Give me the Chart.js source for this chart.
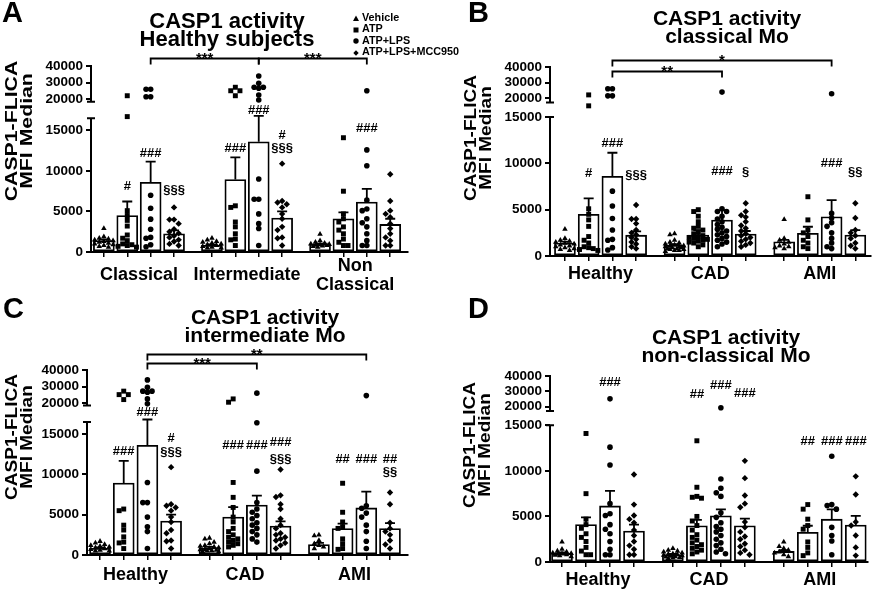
<!DOCTYPE html>
<html>
<head>
<meta charset="utf-8">
<script src="https://cdn.jsdelivr.net/npm/chart.js@4.4.1/dist/chart.umd.min.js"></script>
<style>
  body { margin: 0; background: #fff; }
  #fig { position: relative; width: 875px; height: 590px; overflow: hidden;
         font-family: 'Liberation Sans', Arial, sans-serif; font-weight: bold; color: #000; }
  canvas { position: absolute; }
  .letter { position: absolute; font-size: 29px; line-height: 29px; }
  .title { position: absolute; font-size: 21px; line-height: 18px; text-align: center;
           white-space: nowrap; transform: translateX(-50%); }
  .ytitle { position: absolute; font-size: 17px; line-height: 15px; text-align: center; white-space: nowrap; }
  .legend { position: absolute; left: 353px; top: 11.5px; font-size: 10.8px; line-height: 11.5px; white-space: nowrap; }
  .legend svg { vertical-align: -0.5px; margin-right: 3px; }
</style>
</head>
<body>
<div id="fig">
  <canvas id="cA" width="437" height="295" style="left:0;top:0"></canvas>
  <canvas id="cB" width="438" height="295" style="left:437px;top:0"></canvas>
  <canvas id="cC" width="437" height="295" style="left:0;top:295px"></canvas>
  <canvas id="cD" width="438" height="295" style="left:437px;top:295px"></canvas>

  <div class="letter" style="left:2px;top:-2px">A</div>
  <div class="letter" style="left:468px;top:-2px">B</div>
  <div class="letter" style="left:3px;top:294px">C</div>
  <div class="letter" style="left:468px;top:294px">D</div>

  <div class="title" style="left:227px;top:12px;font-size:22px">CASP1 activity<br>Healthy subjects</div>
  <div class="title" style="left:727px;top:9px">CASP1 activity<br>classical Mo</div>
  <div class="title" style="left:265px;top:308px">CASP1 activity<br>intermediate Mo</div>
  <div class="title" style="left:726px;top:328px">CASP1 activity<br>non-classical Mo</div>

  <div class="ytitle" style="left:18.5px;top:131px;transform:translate(-50%,-50%) rotate(-90deg) scaleX(1.25)">CASP1-FLICA<br>MFI Median</div>
  <div class="ytitle" style="left:477.5px;top:138px;transform:translate(-50%,-50%) rotate(-90deg) scaleX(1.12)">CASP1-FLICA<br>MFI Median</div>
  <div class="ytitle" style="left:18.5px;top:437px;transform:translate(-50%,-50%) rotate(-90deg) scaleX(1.12)">CASP1-FLICA<br>MFI Median</div>
  <div class="ytitle" style="left:476.5px;top:445px;transform:translate(-50%,-50%) rotate(-90deg) scaleX(1.12)">CASP1-FLICA<br>MFI Median</div>

  <div class="legend">
    <div><svg width="6" height="6"><polygon points="0,6 3,0.5 6,6" fill="#000"/></svg>Vehicle</div>
    <div><svg width="6" height="6"><rect x="0.5" y="0.5" width="5" height="5" fill="#000"/></svg>ATP</div>
    <div><svg width="6" height="6"><circle cx="3" cy="3" r="2.7" fill="#000"/></svg>ATP+LPS</div>
    <div><svg width="6" height="6"><polygon points="3,0.3 5.7,3 3,5.7 0.3,3" fill="#000"/></svg>ATP+LPS+MCC950</div>
  </div>
</div>

<script>
// ---------------- data ----------------
const treatments = ['Vehicle', 'ATP', 'ATP+LPS', 'ATP+LPS+MCC950'];
const subsetGroups = ['Classical', 'Intermediate', ['Non', 'Classical']];
const cohortGroups = ['Healthy', 'CAD', 'AMI'];
const yTicks = [0, 5000, 10000, 15000, 20000, 30000, 40000];

// healthy subjects
const healthyClassicalMean = [1400, 4500, 8600, 2250];
const healthyClassicalSem = [150, 1730, 2550, 410];
const healthyClassicalPoints = [
  [2900, 1900, 1700, 1600, 1500, 1400, 1300, 1200, 1100, 1000, 900, 800, 700, 600],
  [22100, 16700, 5100, 4500, 3900, 3200, 2100, 1700, 1400, 1000, 900, 800, 700, 600],
  [26000, 26000, 21500, 21500, 7000, 5400, 4050, 2800, 1800, 1700, 900, 650],
  [5500, 4000, 4000, 3500, 2800, 2500, 2300, 2000, 1800, 1500, 1300, 1000, 800]
];
const healthyIntermediateMean = [820, 8930, 13600, 4200];
const healthyIntermediateSem = [120, 2750, 3200, 800];
const healthyIntermediatePoints = [
  [1700, 1500, 1300, 1200, 1100, 1000, 900, 800, 700, 600, 500, 500],
  [27200, 25100, 25100, 22100, 5700, 5500, 3700, 3100, 2250, 1600, 1500, 800],
  [34000, 29600, 27200, 27200, 26600, 22500, 19500, 9000, 6500, 6500, 4700, 3500, 2900, 800],
  [10900, 6300, 6100, 5900, 5500, 4700, 4100, 3100, 2700, 1800, 1700, 800]
];
const healthyNonClassicalMean = [940, 4100, 6150, 3400];
const healthyNonClassicalSem = [100, 800, 1650, 700];
const healthyNonClassicalPoints = [
  [2200, 1400, 1200, 1100, 1000, 950, 900, 850, 800, 750, 700, 600],
  [14100, 7500, 4700, 4100, 3700, 3100, 2700, 2250, 1600, 1200, 800, 800],
  [25100, 12600, 10650, 6400, 5300, 5100, 4100, 3600, 3100, 2250, 1400, 800, 800],
  [9600, 6300, 5100, 4700, 4300, 3500, 2900, 2250, 1800, 1400, 800, 800]
];

// CAD patients
const cadClassicalMean = [1190, 2260, 3880, 2370];
const cadClassicalSem = [100, 540, 1070, 330];
const cadClassicalPoints = [
  [2400, 2300, 1700, 1500, 1400, 1300, 1200, 1100, 1100, 1000, 1000, 900, 900, 800, 800, 700, 700, 600, 600, 500],
  [5000, 4800, 4300, 3700, 3200, 3000, 2800, 2600, 2400, 2200, 2100, 2000, 1900, 1800, 1700, 1600, 1500, 1400, 1200, 1000],
  [23900, 5100, 4800, 4800, 4300, 4000, 3700, 3400, 3100, 2900, 2700, 2500, 2300, 2100, 1900, 1700, 1500, 1300, 1000],
  [5700, 4800, 4400, 4200, 3700, 3300, 3000, 2700, 2400, 2200, 2000, 1800, 1600, 1400, 1200, 1000]
];
const cadIntermediateMean = [900, 4700, 6200, 3600];
const cadIntermediateSem = [100, 1230, 1160, 570];
const cadIntermediatePoints = [
  [2100, 2000, 1600, 1400, 1200, 1100, 1000, 900, 800, 700, 650, 600, 550, 500, 450, 400],
  [22500, 20500, 9000, 7150, 5900, 4700, 4100, 3300, 2900, 2500, 2200, 2000, 1800, 1600, 1400, 1200, 1000],
  [26000, 16400, 10400, 6500, 5700, 5300, 4900, 4500, 4000, 3700, 3300, 2900, 2500, 2000, 1600],
  [10600, 7400, 7200, 6300, 5700, 4500, 3700, 3300, 2700, 2500, 2200, 2000, 1800, 1500, 1200, 800]
];
const cadNonClassicalMean = [800, 3980, 5060, 3980];
const cadNonClassicalSem = [80, 650, 720, 790];
const cadNonClassicalPoints = [
  [1500, 1300, 1200, 1100, 1000, 900, 850, 800, 750, 700, 650, 600, 550, 500, 450, 400],
  [13300, 8200, 7200, 7100, 7000, 5000, 4500, 4000, 3500, 3000, 2700, 2400, 2100, 1900, 1700, 1500, 1300, 1100, 900],
  [19300, 9100, 8100, 7600, 7200, 5400, 4900, 4300, 3900, 3600, 3300, 2900, 2500, 2100, 1800, 1400, 1100, 900],
  [11100, 9200, 7300, 6400, 6000, 4400, 3800, 3300, 2800, 2500, 2000, 1700, 1300, 1000, 800]
];

// AMI patients
const amiClassicalMean = [1540, 2440, 4240, 2260];
const amiClassicalSem = [200, 720, 1790, 540];
const amiClassicalPoints = [
  [3950, 1900, 1700, 1500, 1300, 1100, 1000, 900, 800],
  [6400, 3900, 2800, 2500, 2100, 1700, 1400, 1000, 800],
  [22800, 4600, 4100, 3600, 3200, 2500, 1900, 1400, 1000, 800],
  [5700, 4100, 2800, 2500, 2200, 1900, 1400, 1100, 800]
];
const amiIntermediateMean = [1300, 3270, 5840, 3270];
const amiIntermediateSem = [200, 610, 2010, 690];
const amiIntermediatePoints = [
  [2500, 2400, 1800, 1400, 1200, 1000, 800],
  [8900, 5300, 4100, 3500, 3300, 2000, 1400, 800, 700],
  [24500, 6100, 5800, 5200, 4700, 3700, 2900, 1700, 800],
  [7760, 6300, 4000, 3300, 2900, 2500, 1800, 1300, 800]
];
const amiNonClassicalMean = [1160, 3250, 4700, 4050];
const amiNonClassicalSem = [150, 730, 1080, 1010];
const amiNonClassicalPoints = [
  [2200, 1700, 1500, 1300, 1100, 1000, 800, 600],
  [6300, 5800, 4700, 4000, 3600, 2200, 1600, 1000, 700],
  [11600, 6300, 6200, 5800, 3800, 2900, 2300, 800],
  [9400, 7400, 4400, 4000, 2900, 1600, 700]
];

// significance marks: [group, bar, height, text] and brackets [[g,b],[g,b], height, text]
const marksA = [[0, 1, 8050, '#'], [0, 2, 12190, '###'], [0, 3, 7650, '§§§'], [1, 1, 12810, '###'],
  [1, 2, 17500, '###'], [1, 3, 14340, '#'], [1, 3, 12810, '§§§'], [2, 2, 15290, '###']];
const bracketsA = [[[0, 2], [1, 2], 44800, '***'], [[1, 2], [2, 2], 44800, '***']];
const marksB = [[0, 1, 8940, '#'], [0, 2, 12110, '###'], [0, 3, 8650, '§§§'], [1, 2, 9110, '###'],
  [1, 3, 9010, '§'], [2, 2, 10020, '###'], [2, 3, 9010, '§§']];
const bracketsB = [[[0, 2], [1, 2], 37400, '**'], [[0, 2], [2, 2], 44500, '*']];
const marksC = [[0, 1, 12900, '###'], [0, 2, 17680, '###'], [0, 3, 14420, '#'], [0, 3, 12700, '§§§'],
  [1, 1, 13650, '###'], [1, 2, 13650, '###'], [1, 3, 13930, '###'], [1, 3, 11890, '§§§'],
  [2, 1, 11890, '##'], [2, 2, 11890, '###'], [2, 3, 11890, '##'], [2, 3, 10250, '§§']];
const bracketsC = [[[0, 2], [1, 2], 44000, '***'], [[0, 2], [2, 2], 49500, '**']];
const marksD = [[0, 2, 35900, '###'], [1, 1, 28000, '##'], [1, 2, 33700, '###'], [1, 3, 28700, '###'],
  [2, 1, 13280, '##'], [2, 2, 13280, '###'], [2, 3, 13280, '###']];

// ---------------- drawing ----------------
const FONT = "'Liberation Sans', Arial, sans-serif";
Chart.defaults.font.family = FONT;
Chart.defaults.font.weight = 'bold';
Chart.defaults.color = '#000';

const GROUP_STEP = 4.62;
const barPos = (g, b) => g * GROUP_STEP + b;
const pointStyles = ['triangle', 'rect', 'circle', 'rectRot'];
const pointRadii = [3.2, 3.5, 2.8, 3.2];

// broken y axis: lower linear part, a gap, compressed upper part
const brkAC = { lowMax: 16500, highMin: 18500, max: 40000, lowFrac: 0.719, gapFrac: 0.089 };
const brkBD = { lowMax: 15000, highMin: 17200, max: 40000, lowFrac: 0.735, gapFrac: 0.077 };

function brokenFrac(v, b) {
  const hi = 1 - b.lowFrac - b.gapFrac;
  if (v <= b.lowMax) return v / b.lowMax * b.lowFrac;
  if (v <= b.highMin) return b.lowFrac + (v - b.lowMax) / (b.highMin - b.lowMax) * b.gapFrac;
  return b.lowFrac + b.gapFrac + (v - b.highMin) / (b.max - b.highMin) * hi;
}
function brokenValue(f, b) {
  const hi = 1 - b.lowFrac - b.gapFrac;
  if (f <= b.lowFrac) return f / b.lowFrac * b.lowMax;
  if (f <= b.lowFrac + b.gapFrac) return b.lowMax + (f - b.lowFrac) / b.gapFrac * (b.highMin - b.lowMax);
  return b.highMin + (f - b.lowFrac - b.gapFrac) / hi * (b.max - b.highMin);
}

class BrokenScale extends Chart.LinearScale {
  static id = 'broken';
  getPixelForValue(v) { return this.bottom - brokenFrac(v, this.brk) * (this.bottom - this.top); }
  getValueForPixel(px) { return brokenValue((this.bottom - px) / (this.bottom - this.top), this.brk); }
}
Chart.register(BrokenScale);

// spread the dots of one bar sideways (pixels) so they do not sit on each other
const SPREAD = [0, -4.6, 4.6, -9.2, 9.2, -2.3, 2.3, -6.9, 6.9];
function swarm(vals, brk, axisPx) {
  const placed = [];
  return vals.map(v => {
    const py = brokenFrac(v, brk) * axisPx;
    let best = 0, bestD = -1;
    for (const c of SPREAD) {
      const d = placed.reduce((m, p) => Math.min(m, Math.hypot(p.x - c, p.y - py)), 99);
      if (d >= 4.6) { best = c; bestD = d; break; }
      if (d > bestD) { best = c; bestD = d; }
    }
    placed.push({ x: best, y: py });
    return best;
  });
}

const brokenAxis = {
  id: 'brokenAxis',
  afterDraw(chart) {
    const y = chart.scales.y, b = y.brk, ctx = chart.ctx, x = y.right;
    const pLow = y.getPixelForValue(b.lowMax), pHigh = y.getPixelForValue(b.highMin);
    ctx.save();
    ctx.strokeStyle = '#000';
    ctx.lineWidth = 2;
    ctx.beginPath();
    ctx.moveTo(x, y.bottom + 1); ctx.lineTo(x, pLow);
    ctx.moveTo(x - 4, pLow); ctx.lineTo(x + 4, pLow);
    ctx.moveTo(x, y.top - 1); ctx.lineTo(x, pHigh);
    ctx.moveTo(x - 4, pHigh); ctx.lineTo(x + 4, pHigh);
    ctx.stroke();
    ctx.restore();
  }
};

const errorBars = {
  id: 'errorBars',
  afterDatasetDraw(chart, args) {
    if (args.meta.type !== 'bar') return;
    const { ctx, scales: { x, y } } = chart;
    ctx.save();
    ctx.strokeStyle = '#000';
    ctx.lineWidth = 1.8;
    chart.data.datasets[args.index].data.forEach(d => {
      const px = x.getPixelForValue(d.x), p0 = y.getPixelForValue(d.y), p1 = y.getPixelForValue(d.y + d.sem);
      ctx.beginPath();
      ctx.moveTo(px, p0); ctx.lineTo(px, p1);
      ctx.moveTo(px - 5, p1); ctx.lineTo(px + 5, p1);
      ctx.stroke();
    });
    ctx.restore();
  }
};

function marksPlugin(labels, brackets) {
  return {
    id: 'marks',
    afterDatasetsDraw(chart) {
      const { ctx, scales: { x, y } } = chart;
      ctx.save();
      ctx.fillStyle = '#000';
      ctx.strokeStyle = '#000';
      ctx.textAlign = 'center';
      ctx.textBaseline = 'middle';
      ctx.font = 'bold 13px ' + FONT;
      labels.forEach(([g, b, v, t]) => ctx.fillText(t, x.getPixelForValue(barPos(g, b)), y.getPixelForValue(v)));
      ctx.font = 'bold 15px ' + FONT;
      ctx.textBaseline = 'alphabetic';
      ctx.lineWidth = 1.8;
      brackets.forEach(([[g1, b1], [g2, b2], v, t]) => {
        const x1 = x.getPixelForValue(barPos(g1, b1)), x2 = x.getPixelForValue(barPos(g2, b2));
        const py = Math.round(y.getPixelForValue(v)) + 0.5;
        ctx.beginPath();
        ctx.moveTo(x1, py + 6); ctx.lineTo(x1, py); ctx.lineTo(x2, py); ctx.lineTo(x2, py + 6);
        ctx.stroke();
        ctx.fillText(t, (x1 + x2) / 2, py + 4);
      });
      ctx.restore();
    }
  };
}

function makePanel(p) {
  const W = p.W, H = 295, box = p.box;
  const ppu = (box.right - box.left) / (p.xRange[1] - p.xRange[0]);
  const axisPx = box.bottom - box.top;
  const barData = [];
  const pointSets = treatments.map(() => []);
  p.sets.forEach((set, g) => {
    set.mean.forEach((m, b) => {
      const x = barPos(g, b);
      barData.push({ x, y: m, sem: set.sem[b] });
      const offs = swarm(set.points[b], p.brk, axisPx);
      set.points[b].forEach((v, k) => pointSets[b].push({ x: x + offs[k] / ppu, y: v }));
    });
  });
  const barTicks = barData.map(d => ({ value: d.x }));
  const groupTicks = p.groups.map((_, g) => ({ value: barPos(g, 1.5) }));

  new Chart(document.getElementById(p.canvas), {
    type: 'bar',
    data: {
      datasets: [
        ...pointSets.map((d, i) => ({
          type: 'scatter', label: treatments[i], data: d, order: 1,
          pointStyle: pointStyles[i], pointRadius: pointRadii[i],
          backgroundColor: '#000', borderColor: '#000', borderWidth: 0
        })),
        {
          type: 'bar', label: 'mean', data: barData, order: 2,
          backgroundColor: '#fff', borderColor: '#000', borderWidth: 1.8,
          borderSkipped: false, barThickness: 21
        }
      ]
    },
    options: {
      responsive: false,
      animation: false,
      events: [],
      layout: { padding: { left: 0, top: box.top, right: W - box.right, bottom: 0 } },
      plugins: { legend: { display: false }, tooltip: { enabled: false } },
      scales: {
        x: {
          type: 'linear', position: 'bottom', weight: 1, offset: false,
          min: p.xRange[0], max: p.xRange[1],
          afterBuildTicks: s => { s.ticks = barTicks.slice(); },
          afterFit: s => { s.height = 5; },
          ticks: { callback: () => '', autoSkip: false, maxRotation: 0 },
          grid: { offset: false, drawOnChartArea: false, drawTicks: true, tickLength: 5, color: '#000', lineWidth: 1.5 },
          border: { display: true, color: '#000', width: 2 }
        },
        x2: {
          type: 'linear', position: 'bottom', weight: 2, offset: false,
          min: p.xRange[0], max: p.xRange[1],
          afterBuildTicks: s => { s.ticks = groupTicks.slice(); },
          afterFit: s => { s.height = H - box.bottom - 5; },
          ticks: {
            callback: (v, i) => p.groups[i], autoSkip: false, maxRotation: 0,
            padding: p.labelPad, crossAlign: 'center',
            font: { size: 18, weight: 'bold', lineHeight: 1.05 }, color: '#000'
          },
          grid: { display: false, drawTicks: false, tickLength: 0, offset: false },
          border: { display: false }
        },
        y: {
          type: 'broken', position: 'left', min: 0, max: 40000,
          beforeUpdate: s => { s.brk = p.brk; },
          afterBuildTicks: s => { s.ticks = yTicks.map(v => ({ value: v })); },
          afterFit: s => { s.width = box.left; },
          ticks: { callback: v => String(v), autoSkip: false, padding: 3, font: { size: 13.5, weight: 'bold' }, color: '#000' },
          grid: { drawOnChartArea: false, drawTicks: true, tickLength: 5, color: '#000', lineWidth: 2 },
          border: { display: false }
        }
      }
    },
    plugins: [errorBars, brokenAxis, marksPlugin(p.marks, p.brackets)]
  });
}

const healthyClassical = { mean: healthyClassicalMean, sem: healthyClassicalSem, points: healthyClassicalPoints };
const healthyIntermediate = { mean: healthyIntermediateMean, sem: healthyIntermediateSem, points: healthyIntermediatePoints };
const healthyNonClassical = { mean: healthyNonClassicalMean, sem: healthyNonClassicalSem, points: healthyNonClassicalPoints };
const cadClassical = { mean: cadClassicalMean, sem: cadClassicalSem, points: cadClassicalPoints };
const cadIntermediate = { mean: cadIntermediateMean, sem: cadIntermediateSem, points: cadIntermediatePoints };
const cadNonClassical = { mean: cadNonClassicalMean, sem: cadNonClassicalSem, points: cadNonClassicalPoints };
const amiClassical = { mean: amiClassicalMean, sem: amiClassicalSem, points: amiClassicalPoints };
const amiIntermediate = { mean: amiIntermediateMean, sem: amiIntermediateSem, points: amiIntermediatePoints };
const amiNonClassical = { mean: amiNonClassicalMean, sem: amiNonClassicalSem, points: amiNonClassicalPoints };

makePanel({ canvas: 'cA', W: 437, box: { left: 91, right: 408, top: 66, bottom: 252 }, xRange: [-0.55, 13.0],
  brk: brkAC, labelPad: 9, groups: subsetGroups,
  sets: [healthyClassical, healthyIntermediate, healthyNonClassical], marks: marksA, brackets: bracketsA });
makePanel({ canvas: 'cB', W: 438, box: { left: 113, right: 435, top: 67, bottom: 256 }, xRange: [-0.63, 12.9],
  brk: brkBD, labelPad: 13, groups: cohortGroups,
  sets: [healthyClassical, cadClassical, amiClassical], marks: marksB, brackets: bracketsB });
makePanel({ canvas: 'cC', W: 437, box: { left: 87, right: 408, top: 75, bottom: 260 }, xRange: [-0.55, 13.0],
  brk: brkAC, labelPad: 15, groups: cohortGroups,
  sets: [healthyIntermediate, cadIntermediate, amiIntermediate], marks: marksC, brackets: bracketsC });
makePanel({ canvas: 'cD', W: 438, box: { left: 113, right: 431, top: 81, bottom: 267 }, xRange: [-0.5, 12.75],
  brk: brkBD, labelPad: 13, groups: cohortGroups,
  sets: [healthyNonClassical, cadNonClassical, amiNonClassical], marks: marksD, brackets: [] });
</script>
</body>
</html>
